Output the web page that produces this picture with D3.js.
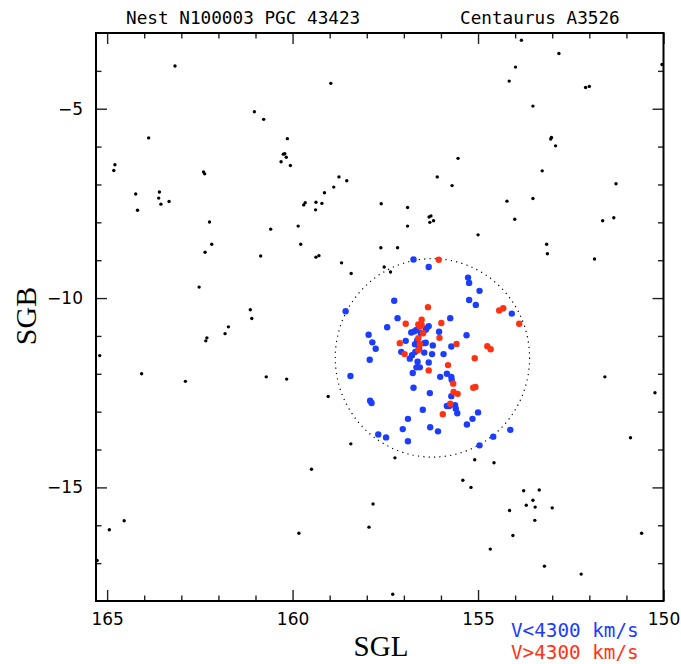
<!DOCTYPE html>
<html><head><meta charset="utf-8">
<script src="https://cdn.jsdelivr.net/npm/d3@7"></script>
<style>body{margin:0;background:#fff;}svg{display:block;}</style>
</head><body>
<script>
// ---- data (SGL, SGB) ----
const bgSGL = [163.17,158.97,161.03,160.78,163.88,160.14,160.25,160.21,160.17,160.31,160.06,164.79,164.82,162.40,162.37,158.75,158.54,164.23,164.18,163.59,163.61,163.55,163.33,158.89,159.14,159.37,159.21,159.66,159.70,159.38,162.24,160.59,159.85,159.78,162.18,162.36,160.86,159.37,159.29,158.68,158.42,162.52,161.14,161.10,161.73,161.82,162.31,162.34,165.20,164.07,162.89,160.71,160.16,159.04,158.43,159.49,157.83,157.94,159.83,164.54,164.94,165.27,157.30,153.83,152.82,150.04,153.99,154.16,152.10,152.00,153.52,153.02,153.04,152.91,155.54,153.27,156.10,155.70,151.28,157.61,156.90,154.22,153.52,156.32,156.27,156.30,156.20,156.90,154.01,151.64,151.34,155.00,153.15,153.13,151.86,157.62,157.17,157.53,157.36,151.58,150.23,150.89,157.24,155.09,154.57,155.41,155.19,153.77,153.35,153.52,153.70,153.46,153.00,154.15,153.47,154.06,150.59,154.67,153.21,152.22];
const bgSGB = [-3.87,-4.33,-5.08,-5.28,-5.77,-5.79,-6.20,-6.19,-6.28,-6.40,-6.50,-6.48,-6.63,-6.67,-6.72,-6.80,-6.90,-7.25,-7.68,-7.20,-7.36,-7.52,-7.45,-7.07,-7.22,-7.47,-7.50,-7.48,-7.54,-7.67,-7.99,-8.18,-8.10,-8.58,-8.58,-8.79,-8.89,-8.92,-8.88,-9.07,-9.35,-9.71,-10.31,-10.54,-10.76,-10.94,-11.05,-11.13,-11.52,-12.00,-12.20,-12.08,-12.14,-12.60,-13.85,-14.52,-15.44,-16.05,-16.21,-15.88,-16.12,-16.93,-17.82,-3.19,-3.54,-3.83,-3.90,-4.27,-4.44,-4.41,-4.93,-5.76,-5.80,-5.98,-6.31,-6.64,-6.80,-7.03,-6.98,-7.51,-7.61,-7.44,-7.37,-7.86,-7.83,-8.00,-7.96,-8.10,-7.92,-7.96,-7.88,-8.33,-8.58,-8.83,-8.97,-8.67,-8.67,-9.18,-9.31,-12.08,-12.50,-13.69,-14.22,-14.27,-14.35,-14.81,-15.00,-15.09,-15.07,-15.34,-15.47,-15.52,-15.54,-15.61,-15.87,-16.27,-16.21,-16.63,-17.08,-17.29];

const lowSGL = [158.57,157.95,157.85,157.76,157.92,158.44,157.91,157.87,157.69,156.74,156.33,155.27,155.24,154.96,157.26,155.24,155.06,154.09,157.17,155.75,157.45,156.33,156.39,156.41,156.66,156.72,156.80,156.54,156.05,155.31,156.95,156.64,156.70,156.45,156.41,156.22,155.72,157.07,156.69,156.78,156.84,156.59,156.45,156.24,155.93,156.63,156.33,156.66,156.57,156.76,155.84,156.02,155.72,155.71,156.74,156.30,155.72,155.84,155.78,155.62,155.60,155.56,155.00,156.49,156.89,155.15,157.03,156.29,156.08,155.30,154.13,157.48,156.89,154.59,154.96];
const lowSGB = [-10.35,-10.97,-11.17,-11.34,-11.63,-12.06,-12.71,-12.77,-13.60,-8.98,-9.18,-9.46,-9.60,-9.81,-10.07,-10.05,-10.18,-10.41,-10.53,-10.53,-10.77,-10.74,-10.80,-10.84,-10.84,-10.88,-10.91,-10.93,-10.89,-10.98,-11.13,-11.11,-11.22,-11.19,-11.18,-11.25,-11.28,-11.42,-11.42,-11.51,-11.60,-11.34,-11.44,-11.48,-11.48,-11.68,-11.70,-11.83,-11.83,-11.98,-12.00,-12.08,-12.08,-12.16,-12.37,-12.51,-12.59,-12.85,-12.85,-12.83,-12.92,-13.04,-13.02,-12.95,-13.19,-13.19,-13.46,-13.41,-13.52,-13.34,-13.48,-13.68,-13.78,-13.66,-13.89];

const highSGL = [156.06,156.35,154.43,154.32,156.52,153.89,156.95,156.61,156.52,156.57,156.48,155.99,157.11,156.61,156.57,156.04,155.58,154.75,154.66,156.98,155.09,155.81,156.33,155.67,155.13,155.07,155.66,155.55,155.75,155.95,156.61];
const highSGB = [-8.99,-10.24,-10.33,-10.27,-10.57,-10.68,-10.68,-10.70,-10.71,-10.76,-10.93,-10.66,-11.19,-11.06,-11.22,-11.05,-11.21,-11.27,-11.35,-11.48,-11.59,-11.77,-11.91,-12.26,-12.37,-12.35,-12.48,-12.53,-12.79,-13.07,-11.37];

const nestCenter = [156.23, -11.58];
const nestRadius = 2.62;

const xMajor = [165,160,155,150];
const xMinor = [164,163,162,161,159,158,157,156,154,153,152,151];
const yMajor = [-5,-10,-15];
const yMinor = [-4,-6,-7,-8,-9,-11,-12,-13,-14,-16,-17];

const titleLeft = "Nest N100003 PGC 43423";
const titleRight = "Centaurus A3526";
const legendLabels = ["V<4300 km/s", "V>4300 km/s"];
const blue = "#1c3cff", red = "#ff3314";

// ---- layout ----
const W = 681, H = 664;
const L = 96, R = 663.5, T = 33, B = 601;
const x = d3.scaleLinear().domain([165.3, 150]).range([L, R]);
const y = d3.scaleLinear().domain([-3, -18]).range([T, B]);

const svg = d3.select("body").append("svg").attr("width", W).attr("height", H);

const monoFont = "'DejaVu Sans Mono', monospace";
const sansFont = "'DejaVu Sans', sans-serif";
const serifFont = "'Liberation Serif', 'DejaVu Serif', serif";

// axes
function styleAxis(g){
  g.select(".domain").remove();
  g.selectAll(".tick line").attr("stroke","#222").attr("stroke-width",1.4);
  g.selectAll("text").attr("fill","#000").attr("font-family",sansFont).attr("font-size",17);
}
svg.append("g").attr("transform",`translate(0,${B})`)
  .call(d3.axisBottom(x).tickValues(xMajor).tickSize(-11).tickPadding(12).tickFormat(d3.format("d"))).call(styleAxis);
svg.append("g").attr("transform",`translate(0,${B})`)
  .call(d3.axisBottom(x).tickValues(xMinor).tickSize(-5.5).tickFormat("")).call(styleAxis);
svg.append("g").attr("transform",`translate(0,${T})`)
  .call(d3.axisTop(x).tickValues(xMajor).tickSize(-11).tickFormat("")).call(styleAxis);
svg.append("g").attr("transform",`translate(0,${T})`)
  .call(d3.axisTop(x).tickValues(xMinor).tickSize(-5.5).tickFormat("")).call(styleAxis);
svg.append("g").attr("transform",`translate(${L},0)`)
  .call(d3.axisLeft(y).tickValues(yMajor).tickSize(-11).tickPadding(13).tickFormat(d3.format("d"))).call(styleAxis);
svg.append("g").attr("transform",`translate(${L},0)`)
  .call(d3.axisLeft(y).tickValues(yMinor).tickSize(-5.5).tickFormat("")).call(styleAxis);
svg.append("g").attr("transform",`translate(${R},0)`)
  .call(d3.axisRight(y).tickValues(yMajor).tickSize(-11).tickFormat("")).call(styleAxis);
svg.append("g").attr("transform",`translate(${R},0)`)
  .call(d3.axisRight(y).tickValues(yMinor).tickSize(-5.5).tickFormat("")).call(styleAxis);

// frame
svg.append("rect").attr("x",L).attr("y",T).attr("width",R-L).attr("height",B-T)
  .attr("fill","none").attr("stroke","#000").attr("stroke-width",2);

// circle
svg.append("ellipse")
  .attr("cx", x(nestCenter[0])).attr("cy", y(nestCenter[1]))
  .attr("rx", Math.abs(x(nestCenter[0]+nestRadius)-x(nestCenter[0])))
  .attr("ry", Math.abs(y(nestCenter[1]+nestRadius)-y(nestCenter[1])))
  .attr("fill","none").attr("stroke","#000").attr("stroke-width",1.2)
  .attr("stroke-dasharray","1.2,4.2");

// points
const bg = bgSGL.map((v,i)=>[v,bgSGB[i]]);
const low = lowSGL.map((v,i)=>[v,lowSGB[i]]);
const high = highSGL.map((v,i)=>[v,highSGB[i]]);
svg.append("g").selectAll("circle").data(bg).join("circle")
  .attr("cx",d=>x(d[0])).attr("cy",d=>y(d[1])).attr("r",1.7).attr("fill","#000");
svg.append("g").selectAll("circle").data(low).join("circle")
  .attr("cx",d=>x(d[0])).attr("cy",d=>y(d[1])).attr("r",3.2).attr("fill",blue);
svg.append("g").selectAll("circle").data(high).join("circle")
  .attr("cx",d=>x(d[0])).attr("cy",d=>y(d[1])).attr("r",3.2).attr("fill",red);

// titles
svg.append("text").attr("x",126).attr("y",24).attr("font-family",monoFont).attr("font-size",17.7)
  .attr("fill","#000").text(titleLeft);
svg.append("text").attr("x",460).attr("y",24).attr("font-family",monoFont).attr("font-size",17.7)
  .attr("fill","#000").text(titleRight);

// axis titles
svg.append("text").attr("x",381).attr("y",656).attr("text-anchor","middle")
  .attr("font-family",serifFont).attr("font-size",29).attr("fill","#000").text("SGL");
svg.append("text").attr("transform","translate(36,316) rotate(-90)").attr("text-anchor","middle")
  .attr("font-family",serifFont).attr("font-size",30).attr("fill","#000").text("SGB");

// legend
svg.append("text").attr("x",511).attr("y",637).attr("font-family",monoFont).attr("font-size",19.3)
  .attr("fill",blue).text(legendLabels[0]);
svg.append("text").attr("x",511).attr("y",659).attr("font-family",monoFont).attr("font-size",19.3)
  .attr("fill",red).text(legendLabels[1]);
</script>
</body></html>
